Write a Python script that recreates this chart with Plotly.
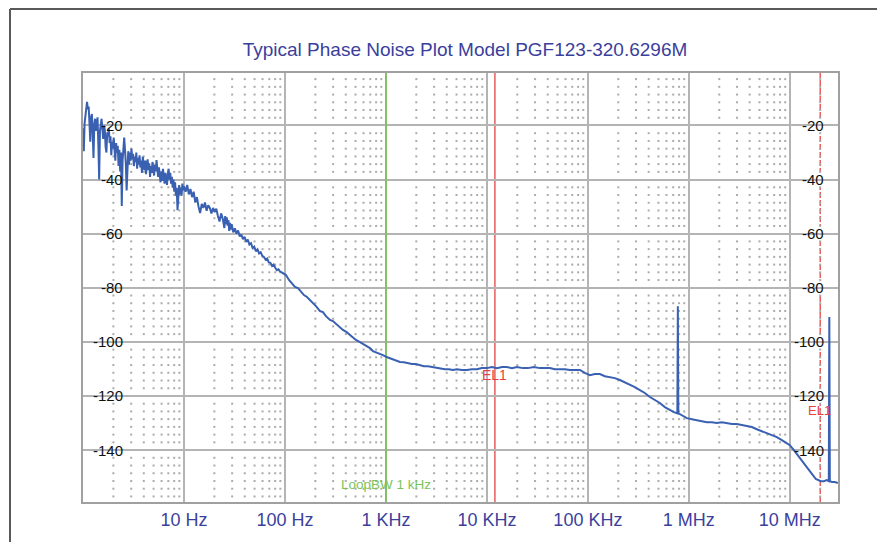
import plotly.graph_objects as go

# ---- data ----
# log10 of offset frequency (Hz) and phase noise (dBc/Hz)
log_freq = [
    0.000, 0.008, 0.016, 0.024, 0.032, 0.040, 0.048, 0.056, 0.064, 0.072, 0.080, 0.088,
    0.096, 0.104, 0.112, 0.120, 0.128, 0.136, 0.144, 0.152, 0.160, 0.168, 0.176, 0.184,
    0.192, 0.200, 0.208, 0.216, 0.224, 0.232, 0.240, 0.248, 0.256, 0.264, 0.272, 0.280,
    0.288, 0.296, 0.304, 0.312, 0.320, 0.328, 0.336, 0.344, 0.352, 0.360, 0.368, 0.376,
    0.384, 0.392, 0.400, 0.408, 0.416, 0.424, 0.432, 0.440, 0.448, 0.456, 0.464, 0.472,
    0.480, 0.488, 0.496, 0.504, 0.512, 0.520, 0.528, 0.536, 0.544, 0.552, 0.560, 0.568,
    0.576, 0.584, 0.592, 0.600, 0.608, 0.616, 0.624, 0.632, 0.640, 0.648, 0.656, 0.664,
    0.672, 0.680, 0.688, 0.696, 0.704, 0.712, 0.720, 0.728, 0.736, 0.744, 0.752, 0.760,
    0.768, 0.776, 0.784, 0.792, 0.800, 0.808, 0.816, 0.824, 0.832, 0.840, 0.848, 0.856,
    0.864, 0.872, 0.880, 0.888, 0.896, 0.904, 0.912, 0.920, 0.928, 0.936, 0.944, 0.952,
    0.960, 0.968, 0.976, 0.984, 0.992, 1.000,
    1.016, 1.032, 1.048, 1.064, 1.080, 1.096, 1.112, 1.128, 1.144, 1.160, 1.176, 1.192,
    1.208, 1.224, 1.240, 1.256, 1.272, 1.288, 1.304, 1.320, 1.336, 1.352, 1.368, 1.384,
    1.400, 1.408, 1.416, 1.424, 1.432, 1.440, 1.448, 1.456, 1.464, 1.472, 1.488, 1.504,
    1.520, 1.536, 1.552, 1.568, 1.584, 1.600, 1.616, 1.632, 1.648, 1.664, 1.680, 1.696,
    1.712, 1.728, 1.744, 1.760, 1.776, 1.792, 1.808, 1.824, 1.840, 1.856, 1.872, 1.888,
    1.904, 1.920, 1.936, 1.952, 1.968, 1.984,
    2.010, 2.040, 2.069, 2.099, 2.129,
    2.158, 2.188, 2.218, 2.248, 2.277, 2.307, 2.347, 2.376, 2.406, 2.446, 2.475, 2.505,
    2.545, 2.574, 2.611, 2.644, 2.673, 2.703, 2.743, 2.772, 2.812, 2.842, 2.871, 2.901,
    2.941, 2.970, 3.007, 3.040, 3.069, 3.099, 3.139, 3.178, 3.218, 3.257, 3.297, 3.337,
    3.376, 3.416, 3.465, 3.505, 3.545, 3.584, 3.624, 3.663, 3.703, 3.752, 3.802, 3.851,
    3.901, 3.950, 4.000, 4.050, 4.099, 4.149, 4.198, 4.248, 4.297, 4.356, 4.406, 4.465,
    4.525, 4.574, 4.624, 4.673, 4.723, 4.772, 4.822, 4.871, 4.921, 4.970, 5.020, 5.069,
    5.119, 5.168, 5.218, 5.267, 5.317, 5.366, 5.416, 5.465, 5.515, 5.564, 5.614, 5.663,
    5.713, 5.762, 5.812, 5.851, 5.886, 5.891, 5.896, 5.931, 5.980, 6.030, 6.079, 6.129,
    6.178, 6.228, 6.277, 6.327, 6.376, 6.426, 6.475, 6.525, 6.574, 6.624, 6.673, 6.723,
    6.772, 6.822, 6.871, 6.921, 6.970, 7.000, 7.040, 7.069, 7.099, 7.129, 7.158, 7.198,
    7.228, 7.257, 7.277, 7.307, 7.337, 7.366, 7.386, 7.391, 7.396, 7.416, 7.446, 7.475,
]
phase_noise = [
    -21.0, -29.5, -19.0, -15.5, -12.0, -11.3, -14.0, -13.0, -19.0, -26.0, -17.0, -15.8,
    -23.0, -32.0, -19.5, -17.5, -22.0, -19.0, -17.0, -27.0, -40.0, -22.0, -19.0, -17.5,
    -21.5, -25.0, -20.0, -21.5, -28.0, -30.0, -22.5, -24.0, -21.0, -26.5, -24.0, -31.0,
    -26.0, -28.5, -24.5, -29.5, -33.0, -26.5, -30.0, -27.5, -35.0, -29.0, -37.0, -30.0,
    -49.8, -33.0, -27.5, -24.5, -29.0, -34.0, -44.0, -31.0, -29.5, -34.5, -30.0, -33.0,
    -28.5, -32.5, -30.5, -35.0, -31.5, -33.5, -30.0, -36.0, -32.0, -34.5, -31.0, -35.5,
    -33.0, -37.5, -31.5, -34.0, -36.5, -33.0, -38.0, -34.5, -32.5, -36.5, -34.0, -39.0,
    -35.0, -37.5, -33.5, -36.0, -38.5, -34.5, -37.0, -32.8, -36.5, -39.0, -35.5, -38.0,
    -41.0, -37.0, -40.5, -36.0, -38.5, -41.5, -37.5, -39.5, -42.0, -38.0, -36.0, -40.0,
    -37.5, -41.5, -39.0, -43.0, -40.0, -44.5, -41.0, -46.0, -43.0, -51.3, -44.0, -42.0,
    -45.5, -43.0, -46.0, -41.5, -44.0, -42.5,
    -44.5, -42.0, -45.5, -43.5, -46.5, -44.5, -48.5, -46.5, -50.0, -52.4, -49.0, -50.5,
    -48.5, -51.5, -49.5, -50.5, -52.5, -50.5, -52.0, -50.8, -53.5, -55.5, -52.5, -54.5,
    -57.9, -53.5, -56.5, -54.0, -57.0, -55.0, -59.0, -56.0, -58.5, -56.5, -59.5, -58.0,
    -60.0, -58.8, -61.0, -60.3, -62.0, -61.2, -63.0, -62.2, -64.0, -63.5, -65.3, -64.8,
    -66.5, -65.8, -67.3, -66.9, -68.2, -68.6, -69.6, -69.2, -70.6, -70.8, -71.9, -71.4,
    -72.6, -73.5, -73.2, -74.0, -74.3, -74.8,
    -75.3, -77.1, -78.2, -79.7, -80.1,
    -81.6, -82.7, -83.4, -84.5, -85.6, -86.8, -88.6, -89.0, -90.5, -91.9, -92.3, -93.4,
    -94.5, -95.6, -96.4, -97.5, -98.6, -99.3, -100.1, -100.8, -101.9, -102.3, -103.4, -103.8,
    -104.5, -104.9, -105.6, -106.0, -106.4, -106.7, -107.4, -107.5, -107.9, -108.2, -108.2, -108.6,
    -109.0, -109.0, -109.3, -109.7, -109.7, -110.1, -110.1, -110.4, -110.1, -110.4, -110.4, -110.1,
    -110.1, -109.7, -109.7, -109.3, -109.7, -109.3, -109.3, -109.7, -109.3, -109.7, -109.7, -109.3,
    -109.7, -109.7, -109.7, -110.1, -110.1, -110.1, -110.4, -110.4, -110.4, -111.5, -112.3, -111.9,
    -111.9, -112.7, -113.0, -113.4, -114.1, -114.9, -116.0, -116.7, -117.8, -118.9, -120.4, -121.5,
    -122.6, -124.1, -125.2, -126.0, -126.4, -86.8, -126.4, -127.1, -128.2, -128.6, -128.9, -129.3,
    -129.7, -129.7, -130.0, -129.7, -130.0, -130.4, -130.4, -130.8, -131.2, -131.5, -132.3, -133.0,
    -133.8, -134.5, -135.2, -136.3, -137.4, -138.2, -140.0, -141.5, -142.6, -144.5, -146.0, -147.8,
    -149.3, -150.7, -151.1, -151.5, -151.5, -151.1, -151.5, -90.8, -151.5, -151.8, -151.8, -152.2,
]

tick_freqs = [1e1, 1e2, 1e3, 1e4, 1e5, 1e6, 1e7]
tick_labels = ["10 Hz", "100 Hz", "1 KHz", "10 KHz", "100 KHz", "1 MHz", "10 MHz"]
db_levels = [-20, -40, -60, -80, -100, -120, -140]

loop_bw_freq = 1e3
marker_freqs = [1.2e4, 2.0e7]
marker_label = "EL1"
title_text = "Typical Phase Noise Plot Model PGF123-320.6296M"

X_RANGE = [0.0, 7.477]
Y_RANGE = [-159.2, -0.6]

freqs = [10 ** v for v in log_freq]

fig = go.Figure()

# minor dot grid (2..9 of each decade, 7 steps per 20 dB)
dot_x, dot_y = [], []
minor_f = [k * 10 ** d for d in range(0, 8) for k in range(2, 10) if k * 10 ** d < 10 ** X_RANGE[1]]
minor_y = []
for top in [0, -20, -40, -60, -80, -100, -120, -140]:
    for i in range(1, 7):
        minor_y.append(top - i * 20 / 7)
for fx in minor_f:
    for yy in minor_y:
        if Y_RANGE[0] < yy < Y_RANGE[1]:
            dot_x.append(fx)
            dot_y.append(yy)
fig.add_trace(go.Scatter(x=dot_x, y=dot_y, mode="markers",
                         marker=dict(symbol="square", size=2, color="#ababab"),
                         hoverinfo="skip", showlegend=False))

# loop bandwidth line
fig.add_trace(go.Scatter(x=[loop_bw_freq, loop_bw_freq], y=[-170, 10], mode="lines",
                         line=dict(color="#7cc45a", width=1.8), hoverinfo="skip", showlegend=False))

# phase noise trace
fig.add_trace(go.Scatter(x=freqs, y=phase_noise, mode="lines",
                         line=dict(color="#3a60b2", width=2), showlegend=False))

# shapes: marker lines (between grid and traces), then white boxes behind right labels
shapes = [
    dict(type="line", xref="x", yref="paper", x0=marker_freqs[0], x1=marker_freqs[0], y0=0, y1=1,
         line=dict(color="#e85c5c", width=1.5), layer="between"),
    dict(type="line", xref="x", yref="paper", x0=marker_freqs[1], x1=marker_freqs[1], y0=0, y1=1,
         line=dict(color="#e85c5c", width=1.5, dash="6px,2px"), layer="between"),
]
label_right = (825 - 83) / 755
label_left_box = (797 - 83) / 755
for lv in db_levels:
    shapes.append(dict(type="rect", xref="paper", yref="y",
                       x0=label_left_box if lv > -100 else (792 - 83) / 755, x1=label_right,
                       y0=lv - 2.8, y1=lv + 2.8,
                       line=dict(width=0), fillcolor="white", layer="between"))
# outer frame: top and left edges only (others lie outside the window)
frame_left = (2 - 75) / 755
frame_top = (494 - 1) / 429
shapes.append(dict(type="line", xref="paper", yref="paper",
                   x0=frame_left, x1=(900 - 75) / 755, y0=frame_top, y1=frame_top,
                   line=dict(color="#5a5a5a", width=2), layer="below"))
shapes.append(dict(type="line", xref="paper", yref="paper",
                   x0=frame_left, x1=frame_left, y0=frame_top, y1=(494 - 560) / 429,
                   line=dict(color="#5a5a5a", width=2), layer="below"))

annotations = []
for lv in db_levels:
    annotations.append(dict(x=(124 - 83) / 755, y=lv, xref="paper", yref="y", text=str(lv),
                            showarrow=False, xanchor="right", yanchor="middle",
                            font=dict(family="Liberation Sans", size=15, color="#111111"),
                            borderpad=0))
    annotations.append(dict(x=label_right, y=lv, xref="paper", yref="y", text=str(lv),
                            showarrow=False, xanchor="right", yanchor="middle",
                            font=dict(family="Liberation Sans", size=15, color="#111111"),
                            borderpad=0))
annotations.append(dict(x=3.0, y=-152.9, xref="x", yref="y", text="LoopBW 1 kHz",
                        showarrow=False, xanchor="center", yanchor="middle",
                        font=dict(family="Liberation Sans", size=13.5, color="#7cc45a")))
annotations.append(dict(x=4.079, y=-112.3, xref="x", yref="y", text=marker_label,
                        showarrow=False, xanchor="center", yanchor="middle",
                        font=dict(family="Liberation Sans", size=14, color="#e84040")))
annotations.append(dict(x=7.29, y=-125.3, xref="x", yref="y", text=marker_label,
                        showarrow=False, xanchor="center", yanchor="middle",
                        font=dict(family="Liberation Sans", size=13, color="#e84040")))

# page body has an 8px margin, so the figure is 8px smaller and shifted
fig.update_layout(
    width=877, height=534,
    margin=dict(l=75, r=47, t=65, b=40),
    paper_bgcolor="white", plot_bgcolor="white",
    title=dict(text=title_text, x=457 / 877, xanchor="center", y=1 - 41 / 534, yanchor="middle",
               font=dict(family="Liberation Sans", size=19, color="#3b3f9c")),
    annotations=annotations,
    shapes=shapes,
)
fig.update_xaxes(type="log", range=X_RANGE, tickvals=tick_freqs, ticktext=tick_labels,
                 showgrid=True, gridcolor="#b4b4b4", gridwidth=1.5,
                 showline=True, linecolor="#a0a0a0", linewidth=2, mirror=True,
                 ticks="", tickfont=dict(family="Liberation Sans", size=18, color="#3b3f9c"),
                 zeroline=False)
fig.update_yaxes(range=Y_RANGE, tickvals=db_levels, showticklabels=False,
                 showgrid=True, gridcolor="#b4b4b4", gridwidth=1.5,
                 showline=True, linecolor="#a0a0a0", linewidth=2, mirror=True,
                 ticks="", zeroline=False)

fig.write_html("out.html")
